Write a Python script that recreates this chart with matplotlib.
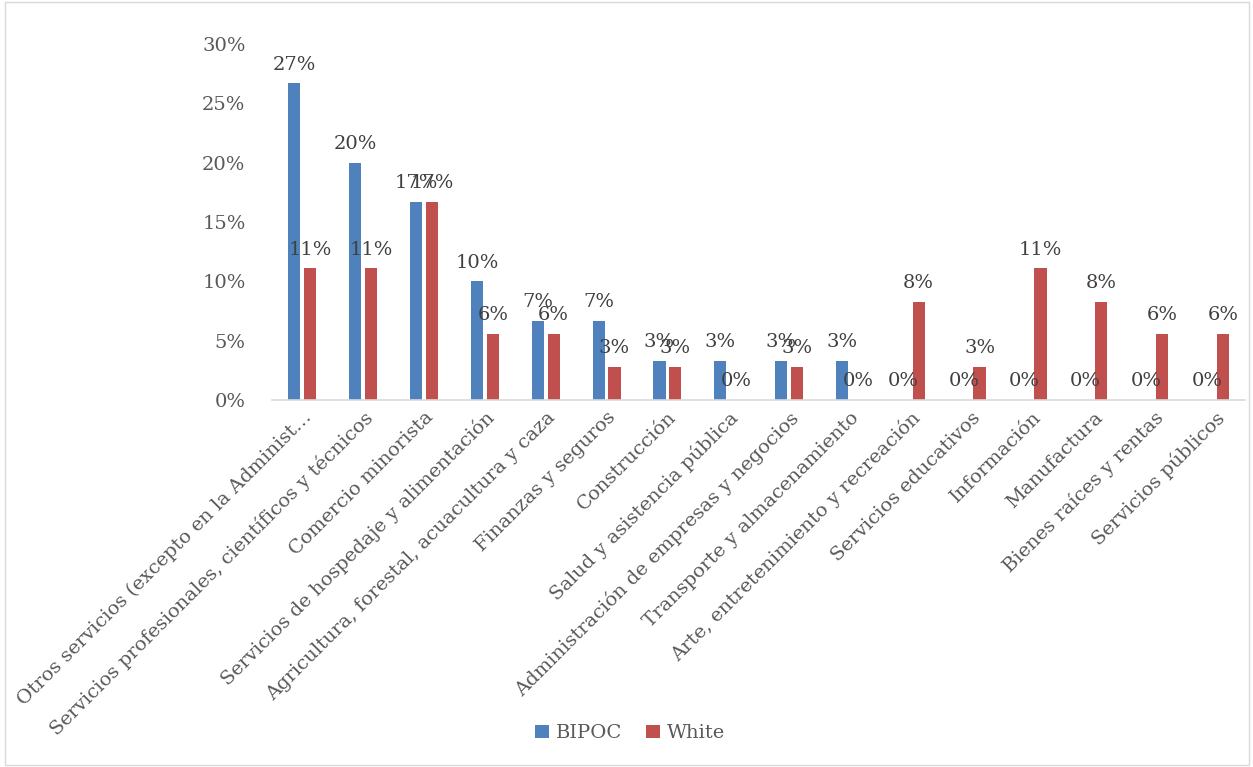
import matplotlib
matplotlib.use('Agg')
import matplotlib.pyplot as plt
import numpy as np
from matplotlib.patches import Rectangle

categories = [
    'Otros servicios (excepto en la Administ…',
    'Servicios profesionales, científicos y técnicos',
    'Comercio minorista',
    'Servicios de hospedaje y alimentación',
    'Agricultura, forestal, acuacultura y caza',
    'Finanzas y seguros',
    'Construcción',
    'Salud y asistencia pública',
    'Administración de empresas y negocios',
    'Transporte y almacenamiento',
    'Arte, entretenimiento y recreación',
    'Servicios educativos',
    'Información',
    'Manufactura',
    'Bienes raíces y rentas',
    'Servicios públicos',
]
bipoc = [0.267, 0.200, 0.167, 0.100, 0.067, 0.067, 0.033, 0.033, 0.033, 0.033,
         0.0, 0.0, 0.0, 0.0, 0.0, 0.0]
white = [0.111, 0.111, 0.167, 0.056, 0.056, 0.028, 0.028, 0.0, 0.028, 0.0,
         0.083, 0.028, 0.111, 0.083, 0.056, 0.056]
yticks = [0, 0.05, 0.10, 0.15, 0.20, 0.25, 0.30]

plt.rcParams['font.family'] = ['DejaVu Serif']
fs = 14

fig = plt.figure(figsize=(12.53, 7.67), dpi=100)
ax = fig.add_axes([0.217, 0.4785, 0.777, 0.464])

x = np.arange(len(categories))
w = 0.2
b1 = ax.bar(x - 0.13, bipoc, w, color='#4F81BD', label='BIPOC')
b2 = ax.bar(x + 0.13, white, w, color='#C0504D', label='White')

for bars, vals in ((b1, bipoc), (b2, white)):
    for r, v in zip(bars, vals):
        ax.annotate(f'{round(v * 100)}%', (r.get_x() + r.get_width() / 2, v),
                    xytext=(0, 7), textcoords='offset points',
                    ha='center', va='bottom', fontsize=fs, color='#404040')

ax.set_xlim(-0.5, len(categories) - 0.5)
ax.set_ylim(0, 0.30)
ax.set_yticks(yticks)
ax.set_yticklabels([f'{round(t * 100)}%' for t in yticks], fontsize=fs, color='#595959')
ax.set_xticks(x)
ax.set_xticklabels(categories, rotation=45, ha='right', va='top',
                   rotation_mode='anchor', fontsize=fs, color='#595959')
ax.tick_params(axis='both', length=0)
ax.tick_params(axis='y', pad=19)
ax.tick_params(axis='x', pad=6)
for s in ('top', 'right', 'left'):
    ax.spines[s].set_visible(False)
ax.spines['bottom'].set_color('#D9D9D9')
ax.spines['bottom'].set_linewidth(1.2)

fig.legend(handles=[b1, b2], labels=['BIPOC', 'White'], loc='center',
           bbox_to_anchor=(0.503, 0.044), ncol=2, frameon=False, fontsize=fs,
           handlelength=0.7, handleheight=0.7, handletextpad=0.4,
           columnspacing=1.2, labelcolor='#595959')

fig.patches.append(Rectangle((0.004, 0.002), 0.993, 0.996, transform=fig.transFigure,
                             fill=False, edgecolor='#D9D9D9', linewidth=1))

fig.savefig('out.png', dpi=100)
